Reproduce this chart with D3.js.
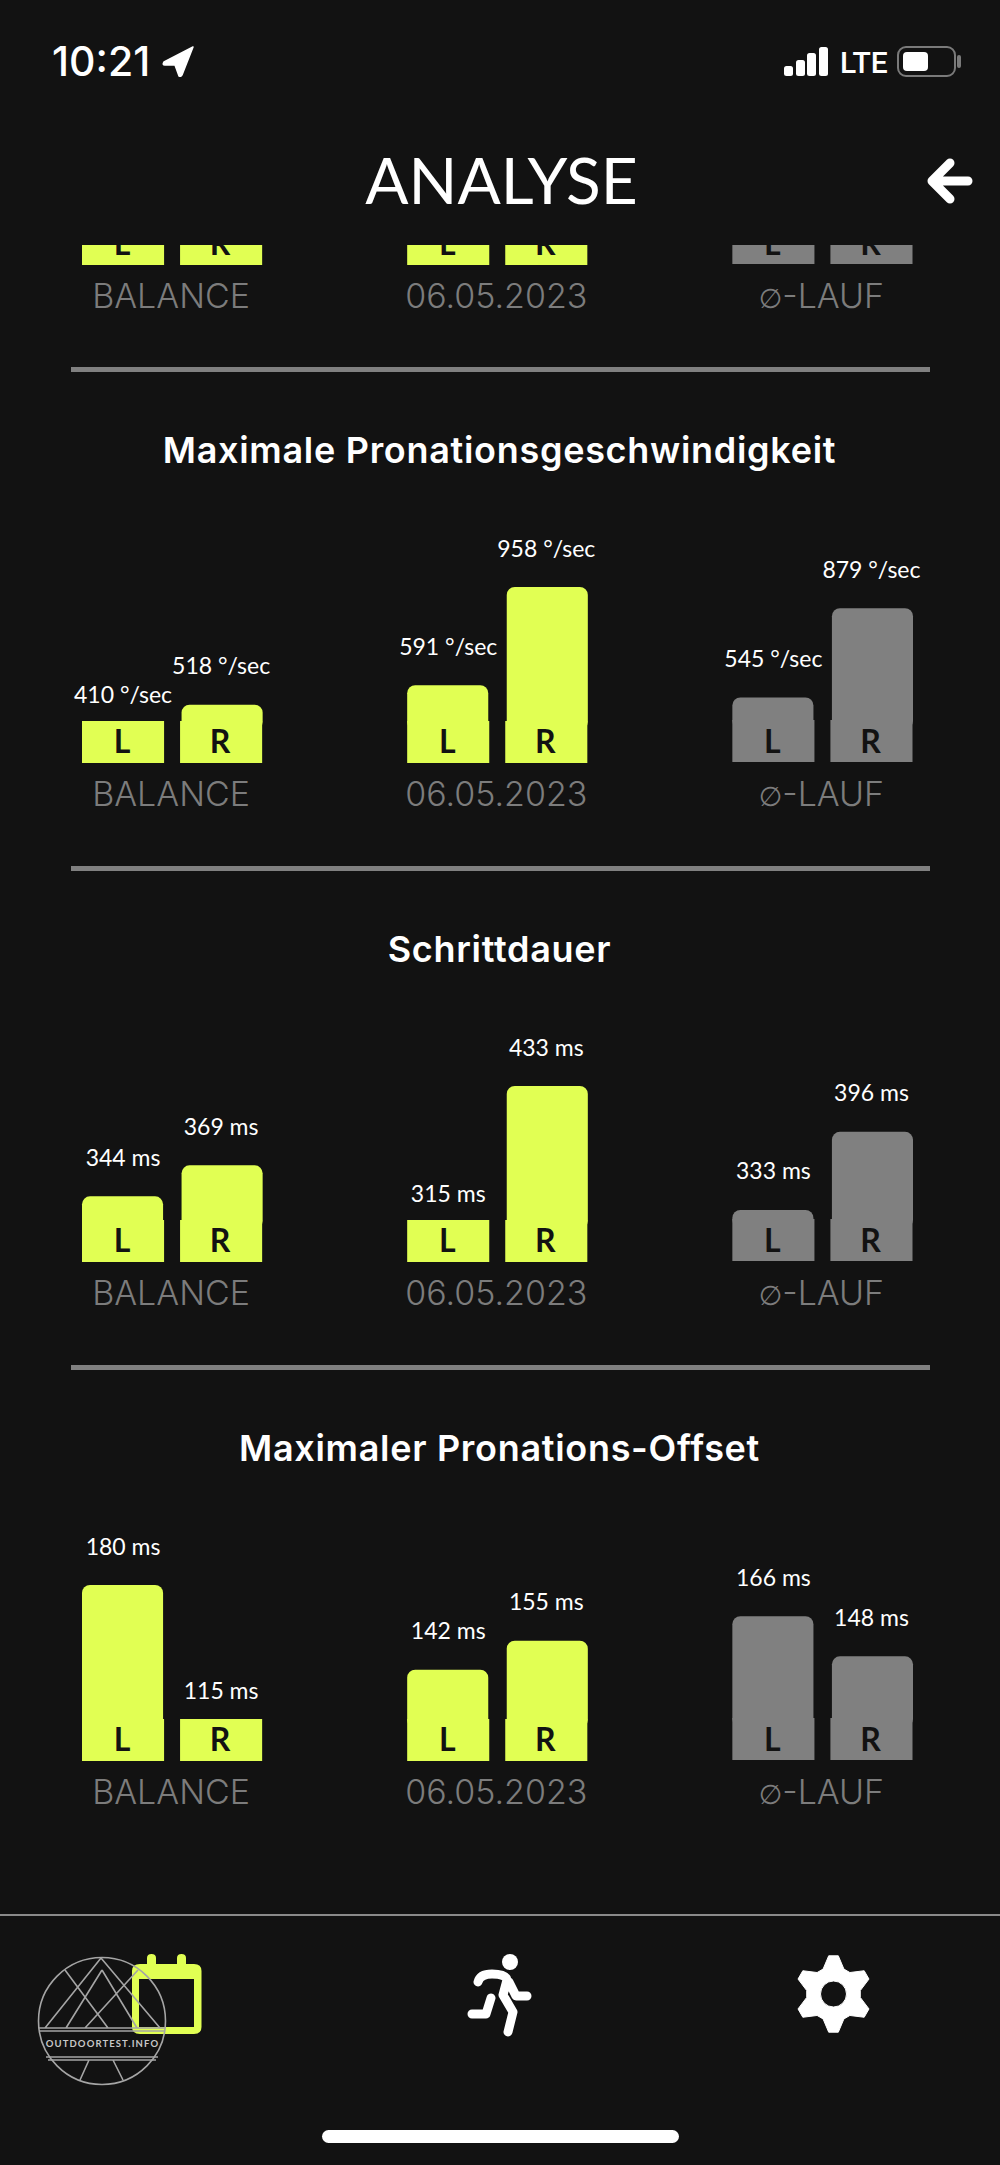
<!DOCTYPE html>
<html>
<head>
<meta charset="utf-8">
<script src="https://cdn.jsdelivr.net/npm/d3@7"></script>
<style>
  html, body { margin: 0; padding: 0; background: #121212; }
  svg { display: block; }
  .title { font-family: Inter, sans-serif; font-weight: 600; fill: #fff; text-anchor: middle; }
  .value { font-family: Lato, sans-serif; font-weight: 400; fill: #fff; text-anchor: middle; }
  .side { font-family: Lato, sans-serif; font-weight: 700; fill: #121212; text-anchor: middle; }
  .column { font-family: Inter, sans-serif; font-weight: 300; fill: #7c7c7c; text-anchor: middle; }
  .diameter { font-family: "DejaVu Sans", sans-serif; font-weight: 400; font-size: 27px; }
</style>
</head>
<body>
<svg id="chart" width="1000" height="2165"></svg>
<script>
// chart values
const columns = ['BALANCE', '06.05.2023', '∅-LAUF'];
const sides = ['L', 'R'];
const sectionTitles = ['Maximale Pronationsgeschwindigkeit', 'Schrittdauer', 'Maximaler Pronations-Offset'];
const sectionUnits = ['°/sec', 'ms', 'ms'];
const pronationSpeed = [[410, 518], [591, 958], [545, 879]];
const stepDuration = [[344, 369], [315, 433], [333, 396]];
const pronationOffset = [[180, 115], [142, 155], [166, 148]];
const sectionValues = [pronationSpeed, stepDuration, pronationOffset];
// value at which a bar has zero height; the app does not start its bars at 0
const sectionFloors = [300, 291, 101];

const YELLOW = '#e1ff53';
const GREY = '#808080';
const BLOCK_H = 42;
const BAR_MAX = 176;
const SECTION_STEP = 499;

const svg = d3.select('#chart');

const xColumn = d3.scaleBand().domain(columns).range([82, 912.5]).paddingInner(0.446);
const xSide = d3.scaleBand().domain(sides).range([0, xColumn.bandwidth()]).paddingInner(0.163);

// scrolled section, cut off under the header
svg.append('clipPath').attr('id', 'scrollClip')
  .append('rect').attr('x', 0).attr('y', 245).attr('width', 1000).attr('height', 1700);

const content = svg.append('g').attr('clip-path', 'url(#scrollClip)');

function drawColumns(g, baseline, values, floor, unit) {
  const y = values && d3.scaleLinear()
    .domain([floor, d3.max(values.flat())])
    .range([baseline, baseline - BAR_MAX]);

  columns.forEach((col, c) => {
    const fill = c === 2 ? GREY : YELLOW;
    const bottom = c === 2 ? baseline - 1 : baseline;
    const cg = g.append('g').attr('transform', `translate(${xColumn(col)},0)`);

    sides.forEach((side, s) => {
      const x = xSide(side);
      if (values) {
        const v = values[c][s];
        const top = y(v);
        // rounded bar runs a little way under the square foot
        if (top < bottom - BLOCK_H) {
          cg.append('rect')
            .attr('x', x + (s ? 1.5 : 0))
            .attr('y', top)
            .attr('width', xSide.bandwidth() - 1)
            .attr('height', bottom - BLOCK_H + 9 - top)
            .attr('rx', 8)
            .attr('fill', fill);
        }
        cg.append('text')
          .attr('class', 'value')
          .attr('x', x + xSide.bandwidth() / 2)
          .attr('y', top - 30.5)
          .style('font-size', '23px')
          .text(`${v} ${unit}`);
      }
      cg.append('rect')
        .attr('x', x)
        .attr('y', bottom - BLOCK_H)
        .attr('width', xSide.bandwidth())
        .attr('height', BLOCK_H)
        .attr('fill', fill);
      cg.append('text')
        .attr('class', 'side')
        .attr('x', x + xSide.bandwidth() / 2 - 1)
        .attr('y', baseline - 10)
        .style('font-size', '32px')
        .text(side);
    });

    const label = cg.append('text')
      .attr('class', 'column')
      .attr('x', xColumn.bandwidth() / 2 - 1)
      .attr('y', baseline + 42.5)
      .style('font-size', '34px');
    if (col[0] === '∅') {
      // the diameter sign is taller in the app than Inter draws it
      label.append('tspan').attr('class', 'diameter').text(col[0]);
      label.append('tspan').text(col.slice(1));
    } else {
      label.text(col);
    }
  });
}

// section above the visible ones: only its feet are on screen
drawColumns(content, 265, null, 0, '');

sectionTitles.forEach((title, i) => {
  const baseline = 763 + i * SECTION_STEP;
  content.append('rect')
    .attr('x', 71).attr('y', 367 + i * SECTION_STEP)
    .attr('width', 859).attr('height', 5)
    .attr('fill', GREY);
  content.append('text')
    .attr('class', 'title')
    .attr('x', 499.5)
    .attr('y', 463 + i * SECTION_STEP)
    .style('font-size', '36px')
    .style('letter-spacing', '0.7px')
    .text(title);
  drawColumns(content, baseline, sectionValues[i], sectionFloors[i], sectionUnits[i]);
});

// header and status bar
const WHITE = '#fff';
svg.append('text')
  .attr('x', 501.5).attr('y', 204)
  .attr('text-anchor', 'middle')
  .style('font-family', 'Lato, sans-serif').style('font-weight', 400).style('font-size', '64px')
  .attr('fill', WHITE)
  .text('ANALYSE');
svg.append('path')
  .attr('d', 'M968 181H935M950 163L932 181L950 199')
  .attr('fill', 'none').attr('stroke', WHITE).attr('stroke-width', 9)
  .attr('stroke-linecap', 'round').attr('stroke-linejoin', 'round');

svg.append('text')
  .attr('x', 52).attr('y', 76)
  .style('font-family', 'Inter, sans-serif').style('font-weight', 500).style('font-size', '41px')
  .attr('fill', WHITE)
  .text('10:21');
svg.append('path')
  .attr('d', 'M193 47L164 62Q162 65 165 65L175 65L179 76Q181 77 182 75Z')
  .attr('fill', WHITE).attr('stroke', WHITE).attr('stroke-width', 1.5).attr('stroke-linejoin', 'round');

[[784, 66], [796, 60], [807, 53], [819, 47]].forEach(([x, top]) => {
  svg.append('rect').attr('x', x).attr('y', top).attr('width', 9).attr('height', 76 - top)
    .attr('rx', 2.5).attr('fill', WHITE);
});
svg.append('text')
  .attr('x', 840).attr('y', 73)
  .style('font-family', 'Roboto, sans-serif').style('font-weight', 500).style('font-size', '30px')
  .attr('fill', WHITE)
  .text('LTE');
svg.append('rect').attr('x', 898).attr('y', 47).attr('width', 57).attr('height', 29).attr('rx', 8)
  .attr('fill', 'none').attr('stroke', '#7a7a7a').attr('stroke-width', 2);
svg.append('rect').attr('x', 903).attr('y', 52).attr('width', 25).attr('height', 19).attr('rx', 4)
  .attr('fill', WHITE);
svg.append('rect').attr('x', 957).attr('y', 55).attr('width', 4).attr('height', 13).attr('rx', 2).attr('fill', '#7a7a7a');

// tab bar
svg.append('rect').attr('x', 0).attr('y', 1914).attr('width', 1000).attr('height', 2).attr('fill', '#8a8a8a');

// calendar tab
svg.append('path')
  .attr('d', 'M140 1964H147V1958Q147 1954 151.500 1954Q156 1954 156 1958V1964H177V1958Q177 1954 181.500 1954Q186 1954 186 1958V1964H194Q201.500 1964 201.500 1971V2027Q201.500 2034 194 2034H140Q132 2034 132 2027V1971Q132 1964 140 1964ZM139 1979V2027H194V1979Z')
  .attr('fill', YELLOW).attr('fill-rule', 'evenodd');

// watermark
const mark = svg.append('g').attr('fill', 'none').attr('stroke', '#a5a5a5').attr('stroke-width', 1.6);
mark.append('circle').attr('cx', 102).attr('cy', 2021).attr('r', 63.5);
mark.append('path').attr('d', [
  'M101 1958L45 2028', 'M101 1958L160 2028',
  'M102 1970L66 2028', 'M102 1970L137 2028',
  'M65 1970L108 2028', 'M138 1970L85 2028',
  'M39 2028H165', 'M39 2031H165',
  'M46 2057H158', 'M48 2060H156',
  'M89 2060L80 2080', 'M113 2060L123 2080'
].join(''));
svg.append('text')
  .attr('x', 102.5).attr('y', 2047)
  .attr('text-anchor', 'middle')
  .style('font-family', 'Lato, sans-serif').style('font-weight', 700).style('font-size', '9.500px')
  .style('letter-spacing', '1.100px')
  .attr('fill', '#c8c8c8')
  .text('OUTDOORTEST.INFO');

// runner tab
svg.append('ellipse').attr('cx', 510).attr('cy', 1962).attr('rx', 8).attr('ry', 8).attr('fill', WHITE);
svg.append('path')
  .attr('d', [
    'M478 1982Q480 1974 492 1974Q506 1974 507 1980L503 1995L513 2012L508 2032',
    'M509 1982L516 1996H527',
    'M491 1998L486 2014H472'
  ].join(''))
  .attr('fill', 'none').attr('stroke', WHITE).attr('stroke-width', 9)
  .attr('stroke-linecap', 'round').attr('stroke-linejoin', 'round');

// settings tab
const gearPoints = [];
d3.range(6).forEach(k => {
  const a = k * Math.PI / 3;
  [[-0.36, 27], [-0.25, 38.5], [0.25, 38.5], [0.36, 27]].forEach(([da, r]) => {
    gearPoints.push([a + da * 0.5 + (Math.abs(da) > 0.3 ? da * 0.6 : 0), r]);
  });
});
const gearPath = d3.lineRadial().curve(d3.curveLinearClosed)(gearPoints);
const holePath = d3.arc()({ innerRadius: 0, outerRadius: 13, startAngle: 0, endAngle: 2 * Math.PI });
svg.append('path')
  .attr('transform', 'translate(833.500,1994)')
  .attr('d', gearPath + holePath)
  .attr('fill', WHITE).attr('fill-rule', 'evenodd')
  .attr('stroke', WHITE).attr('stroke-width', 1).attr('stroke-linejoin', 'round');

// home indicator
svg.append('rect').attr('x', 322).attr('y', 2130).attr('width', 357).attr('height', 13).attr('rx', 6.5).attr('fill', WHITE);
</script>
</body>
</html>
